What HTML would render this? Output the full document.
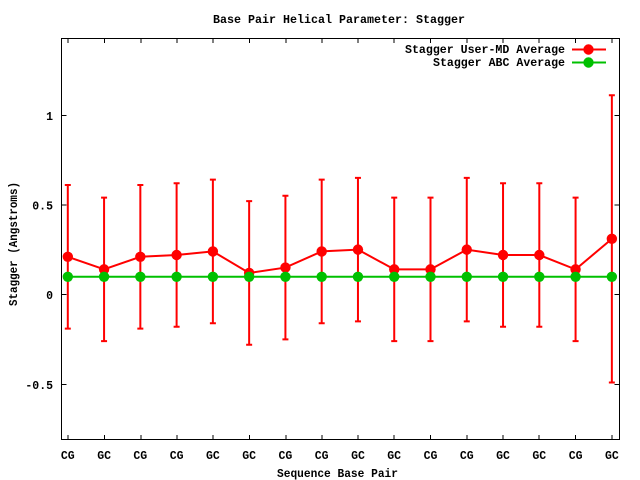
<!DOCTYPE html>
<html>
<head>
<meta charset="utf-8">
<style>
html,body{margin:0;padding:0;background:#fff;}
svg{display:block;}
text{font-family:"Liberation Mono","DejaVu Sans Mono",monospace;font-weight:bold;font-size:11.5px;fill:#000;}
</style>
</head>
<body>
<svg width="640" height="480" viewBox="0 0 640 480" xmlns="http://www.w3.org/2000/svg">
<rect x="0" y="0" width="640" height="480" fill="#fff"/>

<!-- title -->
<text x="213" y="23" textLength="252" lengthAdjust="spacingAndGlyphs">Base Pair Helical Parameter: Stagger</text>

<!-- frame -->
<rect x="61.5" y="38.5" width="558" height="401" fill="none" stroke="#000" stroke-width="1"/>

<!-- y ticks -->
<g stroke="#000" stroke-width="1">
<line x1="61.5" y1="115.5" x2="66.5" y2="115.5"/>
<line x1="61.5" y1="205" x2="66.5" y2="205"/>
<line x1="61.5" y1="294.5" x2="66.5" y2="294.5"/>
<line x1="61.5" y1="384.5" x2="66.5" y2="384.5"/>
<line x1="619.5" y1="115.5" x2="614.5" y2="115.5"/>
<line x1="619.5" y1="205" x2="614.5" y2="205"/>
<line x1="619.5" y1="294.5" x2="614.5" y2="294.5"/>
<line x1="619.5" y1="384.5" x2="614.5" y2="384.5"/>
</g>
<g text-anchor="end">
<text x="53" y="120">1</text>
<text x="53" y="209.5">0.5</text>
<text x="53" y="299">0</text>
<text x="53" y="389">-0.5</text>
</g>

<!-- x ticks -->
<g stroke="#000" stroke-width="1" id="xt">
<line x1="68" y1="439.5" x2="68" y2="435"/><line x1="68" y1="38.5" x2="68" y2="43"/>
<line x1="104.5" y1="439.5" x2="104.5" y2="435"/><line x1="104.5" y1="38.5" x2="104.5" y2="43"/>
<line x1="141" y1="439.5" x2="141" y2="435"/><line x1="141" y1="38.5" x2="141" y2="43"/>
<line x1="177" y1="439.5" x2="177" y2="435"/><line x1="177" y1="38.5" x2="177" y2="43"/>
<line x1="213" y1="439.5" x2="213" y2="435"/><line x1="213" y1="38.5" x2="213" y2="43"/>
<line x1="249.5" y1="439.5" x2="249.5" y2="435"/><line x1="249.5" y1="38.5" x2="249.5" y2="43"/>
<line x1="286" y1="439.5" x2="286" y2="435"/><line x1="286" y1="38.5" x2="286" y2="43"/>
<line x1="322" y1="439.5" x2="322" y2="435"/><line x1="322" y1="38.5" x2="322" y2="43"/>
<line x1="358" y1="439.5" x2="358" y2="435"/><line x1="358" y1="38.5" x2="358" y2="43"/>
<line x1="394" y1="439.5" x2="394" y2="435"/><line x1="394" y1="38.5" x2="394" y2="43"/>
<line x1="430.5" y1="439.5" x2="430.5" y2="435"/><line x1="430.5" y1="38.5" x2="430.5" y2="43"/>
<line x1="467" y1="439.5" x2="467" y2="435"/><line x1="467" y1="38.5" x2="467" y2="43"/>
<line x1="503" y1="439.5" x2="503" y2="435"/><line x1="503" y1="38.5" x2="503" y2="43"/>
<line x1="539" y1="439.5" x2="539" y2="435"/><line x1="539" y1="38.5" x2="539" y2="43"/>
<line x1="575.5" y1="439.5" x2="575.5" y2="435"/><line x1="575.5" y1="38.5" x2="575.5" y2="43"/>
<line x1="612" y1="439.5" x2="612" y2="435"/><line x1="612" y1="38.5" x2="612" y2="43"/>
</g>
<g text-anchor="middle">
<text x="67.8" y="459">CG</text>
<text x="104.1" y="459">GC</text>
<text x="140.3" y="459">CG</text>
<text x="176.6" y="459">CG</text>
<text x="212.9" y="459">GC</text>
<text x="249.2" y="459">GC</text>
<text x="285.4" y="459">CG</text>
<text x="321.7" y="459">CG</text>
<text x="358" y="459">GC</text>
<text x="394.2" y="459">GC</text>
<text x="430.5" y="459">CG</text>
<text x="466.8" y="459">CG</text>
<text x="503" y="459">GC</text>
<text x="539.3" y="459">GC</text>
<text x="575.6" y="459">CG</text>
<text x="611.9" y="459">GC</text>
</g>

<!-- axis labels -->
<text x="277" y="477" textLength="121" lengthAdjust="spacingAndGlyphs">Sequence Base Pair</text>
<text transform="translate(17,244) rotate(-90)" text-anchor="middle" textLength="124" lengthAdjust="spacingAndGlyphs">Stagger (Angstroms)</text>

<!-- red series -->
<g stroke="#ff0000" stroke-width="2" fill="none">
<polyline points="67.8,256.8 104.07,269.37 140.34,256.8 176.61,255.01 212.88,251.42 249.15,272.96 285.42,267.58 321.69,251.42 357.96,249.63 394.23,269.37 430.5,269.37 466.77,249.63 503.04,255.01 539.31,255.01 575.58,269.37 611.85,238.86"/>
<path d="
M67.8,185 V328.6 M64.8,185 H70.8 M64.8,328.6 H70.8
M104.07,197.57 V341.17 M101.07,197.57 H107.07 M101.07,341.17 H107.07
M140.34,185 V328.6 M137.34,185 H143.34 M137.34,328.6 H143.34
M176.61,183.21 V326.81 M173.61,183.21 H179.61 M173.61,326.81 H179.61
M212.88,179.62 V323.22 M209.88,179.62 H215.88 M209.88,323.22 H215.88
M249.15,201.16 V344.76 M246.15,201.16 H252.15 M246.15,344.76 H252.15
M285.42,195.78 V339.38 M282.42,195.78 H288.42 M282.42,339.38 H288.42
M321.69,179.62 V323.22 M318.69,179.62 H324.69 M318.69,323.22 H324.69
M357.96,177.83 V321.43 M354.96,177.83 H360.96 M354.96,321.43 H360.96
M394.23,197.57 V341.17 M391.23,197.57 H397.23 M391.23,341.17 H397.23
M430.5,197.57 V341.17 M427.5,197.57 H433.5 M427.5,341.17 H433.5
M466.77,177.83 V321.43 M463.77,177.83 H469.77 M463.77,321.43 H469.77
M503.04,183.21 V326.81 M500.04,183.21 H506.04 M500.04,326.81 H506.04
M539.31,183.21 V326.81 M536.31,183.21 H542.31 M536.31,326.81 H542.31
M575.58,197.57 V341.17 M572.58,197.57 H578.58 M572.58,341.17 H578.58
M611.85,95.26 V382.46 M608.85,95.26 H614.85 M608.85,382.46 H614.85
"/>
</g>
<g fill="#ff0000">
<circle cx="67.8" cy="256.8" r="5.2"/>
<circle cx="104.07" cy="269.37" r="5.2"/>
<circle cx="140.34" cy="256.8" r="5.2"/>
<circle cx="176.61" cy="255.01" r="5.2"/>
<circle cx="212.88" cy="251.42" r="5.2"/>
<circle cx="249.15" cy="272.96" r="5.2"/>
<circle cx="285.42" cy="267.58" r="5.2"/>
<circle cx="321.69" cy="251.42" r="5.2"/>
<circle cx="357.96" cy="249.63" r="5.2"/>
<circle cx="394.23" cy="269.37" r="5.2"/>
<circle cx="430.5" cy="269.37" r="5.2"/>
<circle cx="466.77" cy="249.63" r="5.2"/>
<circle cx="503.04" cy="255.01" r="5.2"/>
<circle cx="539.31" cy="255.01" r="5.2"/>
<circle cx="575.58" cy="269.37" r="5.2"/>
<circle cx="611.85" cy="238.86" r="5.2"/>
</g>

<!-- green series -->
<line x1="67.8" y1="276.8" x2="611.85" y2="276.8" stroke="#00c000" stroke-width="2"/>
<g fill="#00c000">
<circle cx="67.8" cy="276.8" r="5.2"/>
<circle cx="104.07" cy="276.8" r="5.2"/>
<circle cx="140.34" cy="276.8" r="5.2"/>
<circle cx="176.61" cy="276.8" r="5.2"/>
<circle cx="212.88" cy="276.8" r="5.2"/>
<circle cx="249.15" cy="276.8" r="5.2"/>
<circle cx="285.42" cy="276.8" r="5.2"/>
<circle cx="321.69" cy="276.8" r="5.2"/>
<circle cx="357.96" cy="276.8" r="5.2"/>
<circle cx="394.23" cy="276.8" r="5.2"/>
<circle cx="430.5" cy="276.8" r="5.2"/>
<circle cx="466.77" cy="276.8" r="5.2"/>
<circle cx="503.04" cy="276.8" r="5.2"/>
<circle cx="539.31" cy="276.8" r="5.2"/>
<circle cx="575.58" cy="276.8" r="5.2"/>
<circle cx="611.85" cy="276.8" r="5.2"/>
</g>

<!-- legend -->
<text x="565" y="53" text-anchor="end" textLength="160" lengthAdjust="spacingAndGlyphs">Stagger User-MD Average</text>
<line x1="572" y1="49.5" x2="606" y2="49.5" stroke="#ff0000" stroke-width="2"/>
<circle cx="588.5" cy="49.5" r="5.2" fill="#ff0000"/>
<text x="565" y="66" text-anchor="end" textLength="132" lengthAdjust="spacingAndGlyphs">Stagger ABC Average</text>
<line x1="572" y1="62.5" x2="606" y2="62.5" stroke="#00c000" stroke-width="2"/>
<circle cx="588.5" cy="62.5" r="5.2" fill="#00c000"/>
</svg>
</body>
</html>
